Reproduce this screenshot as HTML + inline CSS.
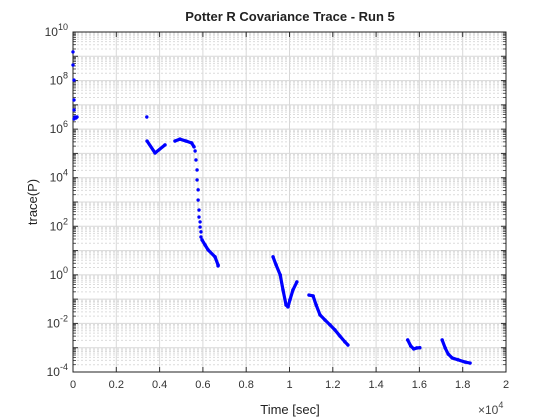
<!DOCTYPE html>
<html><head><meta charset="utf-8"><style>
body{margin:0;background:#fff;}
svg{display:block;font-family:"Liberation Sans",sans-serif;}
</style></head><body>
<svg id="chart" width="560" height="420">
<rect x="0" y="0" width="560" height="420" fill="#fff"/>
<g id="grid"></g>
<g id="axes"></g>
<g id="marks"></g>
<text x="290" y="21" text-anchor="middle" font-size="13" font-weight="bold" fill="#222">Potter R Covariance Trace - Run 5</text>
<text x="290" y="414" text-anchor="middle" font-size="13" fill="#222">Time [sec]</text>
<text transform="translate(37,202) rotate(-90)" text-anchor="middle" font-size="13" fill="#222">trace(P)</text>
<text x="478" y="414" font-size="12" fill="#444">×10<tspan dy="-6" font-size="9">4</tspan></text>
</svg>
<script>
// data
const timeSec=[0,0,46,46,46,92,138,46,185, 3410,
 3420,3790,4250,4710,4940,5220,5480,5590,
 5640,5680,5730,5730,5780,5780,5820,5820,5870,5870,5910,5910,
 5960,6100,6240,6560,6700,6700,
 9240,9380,9570,9700,9840,9930,10020,10160,10340,
 10900,11090,11230,11410,11640,11870,12100,12330,12560,12700,
 15460,15600,15740,15880,16020,
 17050,17190,17330,17510,17790,18110,18340];
const traceLog10=[9.18,8.64,8.02,7.2,6.79,6.5,6.46,6.42,6.5, 6.5,
 5.51,5.02,5.35,5.51,5.59,5.51,5.43,5.27,
 5.1,4.73,4.32,3.91,3.5,3.08,2.67,2.38,2.18,1.97,1.77,1.56,
 1.44,1.23,1.03,0.74,0.41,0.37,
 0.74,0.41,0,-0.62,-1.24,-1.32,-1.03,-0.62,-0.29,
 -0.83,-0.87,-1.24,-1.65,-1.86,-2.06,-2.27,-2.52,-2.76,-2.89,
 -2.68,-2.93,-3.05,-3.01,-3.0,
 -2.68,-3.01,-3.26,-3.42,-3.5,-3.59,-3.63];
const segmentId=[0,0,0,0,0,0,0,0,0, 0,
 2,2,2,3,3,3,3,3,
 0,0,0,0,0,0,0,0,0,0,0,0,
 4,4,4,4,4,4,
 5,5,5,5,5,5,5,5,5,
 6,6,6,6,6,6,6,6,6,6,
 7,7,7,7,7,
 8,8,8,8,8,8,8];
const xTicks=[0,2000,4000,6000,8000,10000,12000,14000,16000,18000,20000];
const xTickLabels=["0","0.2","0.4","0.6","0.8","1","1.2","1.4","1.6","1.8","2"];
const yDecades=[-4,-2,0,2,4,6,8,10];

const L=73,R=506,T=32,B=372;
const xS=t=>L+(t/20000)*(R-L);
const yS=lg=>T+(10-lg)/14*(B-T);
const NS="http://www.w3.org/2000/svg";
function mk(tag,attrs,parent){const e=document.createElementNS(NS,tag);for(const k in attrs)e.setAttribute(k,attrs[k]);parent.appendChild(e);return e;}
const grid=document.getElementById('grid'),axes=document.getElementById('axes'),marks=document.getElementById('marks');

for(let d=-4;d<10;d++){for(let m=2;m<10;m++){const y=yS(d+Math.log10(m));
 const g=mk('line',{x1:L,x2:R,y1:y,y2:y,stroke:'#dcdcdc','stroke-width':1,'stroke-dasharray':'2,2'},grid);
 
 for(const s of [L,R-3]){mk('line',{x1:s,x2:s+3,y1:y,y2:y,stroke:'#333','stroke-width':0.8},axes);}
}}
for(let d=-4;d<=10;d++){const y=yS(d);
 const g=mk('line',{x1:L,x2:R,y1:y,y2:y,stroke:'#d8d8d8','stroke-width':1},grid);
 
 mk('line',{x1:L,x2:L+5,y1:y,y2:y,stroke:'#333'},axes);mk('line',{x1:R,x2:R-5,y1:y,y2:y,stroke:'#333'},axes);
}
xTicks.forEach((t,i)=>{const x=xS(t);
 const g=mk('line',{x1:x,x2:x,y1:T,y2:B,stroke:'#d8d8d8','stroke-width':1},grid);
 
 mk('line',{x1:x,x2:x,y1:B,y2:B-5,stroke:'#333'},axes);mk('line',{x1:x,x2:x,y1:T,y2:T+5,stroke:'#333'},axes);
 const tx=mk('text',{x:x,y:B+16,'text-anchor':'middle','font-size':11,fill:'#333'},axes);
 
 tx.textContent=xTickLabels[i];
});
yDecades.forEach(d=>{const y=yS(d);
 const tx=mk('text',{x:L-5,y:y+4,'text-anchor':'end','font-size':12,fill:'#333'},axes);
 
 tx.appendChild(document.createTextNode('10'));
 const sp=document.createElementNS(NS,'tspan');sp.setAttribute('dy','-6');sp.setAttribute('font-size','9');sp.textContent=String(d);tx.appendChild(sp);
});
const box=mk('rect',{x:L,y:T,width:R-L,height:B-T,fill:'none',stroke:'#222','stroke-width':1},axes);


for(let i=1;i<timeSec.length;i++){
 if(segmentId[i]>0&&segmentId[i]===segmentId[i-1]){
  const l=mk('line',{x1:xS(timeSec[i-1]),y1:yS(traceLog10[i-1]),x2:xS(timeSec[i]),y2:yS(traceLog10[i]),stroke:'#0000ff','stroke-width':3.2,'stroke-linecap':'round'},marks);
  
 }
}
for(let i=0;i<timeSec.length;i++){
 const c=mk('circle',{cx:xS(timeSec[i]),cy:yS(traceLog10[i]),r:1.7,fill:'#0000ff'},marks);
 
}
</script>
</body></html>
